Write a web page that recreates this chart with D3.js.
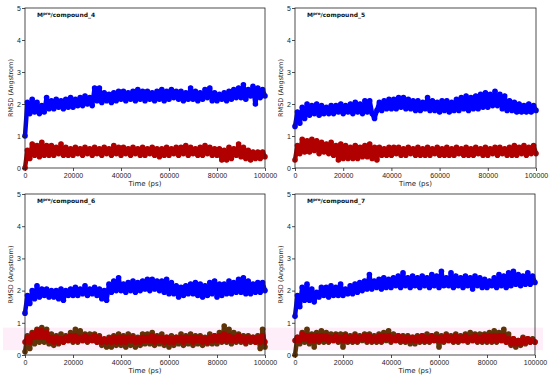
<!DOCTYPE html>
<html>
<head>
<meta charset="utf-8">
<script src="https://cdn.jsdelivr.net/npm/d3@7"></script>
<style>
  body { margin: 0; background: #fff; }
  svg { display: block; font-family: "DejaVu Sans", sans-serif; }
</style>
</head>
<body>
<svg id="chart" width="550" height="378"></svg>
<script>
// sampling times (ps), one point every 1000 ps
const TIME = d3.range(0, 100001, 1000);
const X_TICKS = [0, 20000, 40000, 60000, 80000, 100000];
const Y_TICKS = [0, 1, 2, 3, 4, 5];
const COMPOUNDS = ['compound_4', 'compound_5', 'compound_6', 'compound_7'];

const c4Protein = [1.00,2.05,1.70,2.15,1.75,2.05,1.70,1.95,1.75,2.20,
 1.85,2.10,1.85,2.15,1.90,2.10,1.85,2.15,1.90,2.20,
 1.90,2.15,1.95,2.20,1.95,2.25,2.00,2.20,1.95,2.50,
 2.10,2.50,2.05,2.35,2.10,2.30,2.05,2.35,2.10,2.40,
 2.15,2.40,2.10,2.35,2.15,2.40,2.10,2.45,2.15,2.40,
 2.10,2.40,2.15,2.35,2.10,2.40,2.15,2.45,2.10,2.40,
 2.15,2.45,2.20,2.40,2.15,2.40,2.10,2.35,2.15,2.50,
 2.15,2.40,2.10,2.35,2.15,2.45,2.20,2.50,2.10,2.35,
 2.10,2.30,2.15,2.35,2.10,2.40,2.15,2.45,2.20,2.50,
 2.20,2.60,2.15,2.45,2.25,2.55,2.00,2.50,2.20,2.45,
 2.25];
const c4Ligand = [0.00,0.55,0.30,0.75,0.40,0.70,0.35,0.80,0.40,0.70,
 0.40,0.70,0.40,0.65,0.45,0.75,0.40,0.65,0.40,0.60,
 0.40,0.65,0.45,0.60,0.40,0.65,0.45,0.60,0.40,0.65,
 0.45,0.60,0.40,0.65,0.45,0.60,0.40,0.70,0.45,0.65,
 0.40,0.65,0.45,0.60,0.40,0.65,0.45,0.60,0.40,0.65,
 0.40,0.60,0.45,0.65,0.40,0.60,0.35,0.60,0.40,0.65,
 0.40,0.60,0.45,0.65,0.40,0.65,0.45,0.70,0.40,0.65,
 0.45,0.60,0.40,0.65,0.40,0.70,0.45,0.65,0.40,0.60,
 0.40,0.60,0.25,0.55,0.25,0.65,0.30,0.60,0.40,0.75,
 0.35,0.65,0.30,0.55,0.25,0.50,0.30,0.50,0.30,0.50,
 0.35];

const c5Protein = [1.30,1.75,1.40,1.90,1.55,2.00,1.65,1.95,1.70,2.00,
 1.65,1.95,1.70,1.90,1.70,1.95,1.70,1.95,1.75,2.00,
 1.70,1.95,1.75,2.00,1.70,2.05,1.75,2.00,1.70,2.10,
 1.75,2.10,1.70,1.55,1.80,2.05,1.80,2.10,1.85,2.15,
 1.85,2.15,1.85,2.20,1.90,2.20,1.85,2.15,1.85,2.10,
 1.80,2.10,1.80,2.05,1.85,2.20,1.80,2.10,1.80,2.05,
 1.75,2.10,1.80,2.10,1.75,2.05,1.80,2.15,1.80,2.20,
 1.85,2.25,1.80,2.20,1.85,2.25,1.85,2.30,1.90,2.35,
 1.90,2.30,1.95,2.40,1.95,2.30,1.85,2.25,1.80,2.10,
 1.80,2.05,1.75,2.00,1.75,1.95,1.75,2.00,1.75,1.95,
 1.80];
const c5Ligand = [0.25,0.70,0.45,0.90,0.50,0.85,0.50,0.90,0.55,0.85,
 0.45,0.80,0.50,0.75,0.45,0.80,0.40,0.70,0.25,0.75,
 0.30,0.70,0.30,0.65,0.30,0.70,0.30,0.65,0.35,0.70,
 0.35,0.75,0.30,0.65,0.25,0.65,0.40,0.60,0.40,0.65,
 0.40,0.65,0.45,0.65,0.40,0.60,0.40,0.65,0.45,0.60,
 0.40,0.65,0.40,0.60,0.40,0.65,0.40,0.60,0.45,0.65,
 0.40,0.60,0.40,0.65,0.40,0.60,0.40,0.65,0.45,0.60,
 0.40,0.65,0.40,0.60,0.40,0.65,0.45,0.60,0.40,0.65,
 0.40,0.60,0.45,0.65,0.40,0.65,0.45,0.60,0.40,0.65,
 0.40,0.70,0.40,0.65,0.45,0.70,0.40,0.65,0.45,0.70,
 0.45];

const c6Protein = [1.30,1.85,1.60,2.00,1.75,2.15,1.80,2.05,1.85,2.05,
 1.80,2.00,1.80,2.00,1.75,2.05,1.70,2.00,1.85,2.05,
 1.85,2.10,1.85,2.05,1.90,2.15,1.85,2.05,1.90,2.10,
 1.85,2.05,1.75,2.00,1.70,2.20,1.95,2.30,2.00,2.40,
 2.00,2.20,1.95,2.25,2.00,2.30,1.95,2.25,2.00,2.30,
 2.05,2.35,2.00,2.35,2.05,2.30,2.00,2.30,1.95,2.35,
 1.90,2.25,1.90,2.15,1.80,2.10,1.85,2.15,1.90,2.20,
 1.90,2.25,1.85,2.20,1.80,2.15,1.85,2.25,1.90,2.30,
 1.80,2.20,1.85,2.20,1.90,2.30,1.90,2.25,1.95,2.35,
 1.95,2.40,1.90,2.30,1.90,2.20,1.95,2.25,1.95,2.25,
 2.00];
const c6Pocket = [0.10,0.60,0.20,0.70,0.35,0.80,0.40,0.85,0.40,0.80,
 0.35,0.65,0.30,0.60,0.35,0.65,0.40,0.60,0.45,0.70,
 0.40,0.80,0.40,0.75,0.45,0.65,0.40,0.65,0.45,0.65,
 0.40,0.60,0.30,0.45,0.25,0.55,0.25,0.60,0.30,0.65,
 0.30,0.60,0.25,0.65,0.30,0.60,0.25,0.55,0.30,0.65,
 0.35,0.65,0.35,0.70,0.30,0.60,0.35,0.65,0.30,0.55,
 0.25,0.60,0.30,0.55,0.35,0.65,0.30,0.60,0.35,0.65,
 0.30,0.60,0.35,0.60,0.30,0.55,0.35,0.65,0.35,0.60,
 0.35,0.70,0.40,0.90,0.40,0.80,0.35,0.70,0.40,0.65,
 0.40,0.60,0.35,0.60,0.40,0.55,0.40,0.60,0.20,0.80,
 0.25];
const c6Ligand = [0.40,0.55,0.40,0.65,0.55,0.75,0.55,0.75,0.55,0.70,
 0.45,0.55,0.40,0.55,0.40,0.50,0.40,0.55,0.45,0.60,
 0.45,0.60,0.45,0.55,0.45,0.60,0.45,0.55,0.45,0.60,
 0.40,0.55,0.40,0.50,0.40,0.50,0.40,0.55,0.40,0.55,
 0.40,0.55,0.40,0.55,0.45,0.55,0.40,0.50,0.40,0.55,
 0.45,0.55,0.45,0.60,0.40,0.55,0.45,0.55,0.40,0.55,
 0.40,0.50,0.40,0.55,0.45,0.55,0.40,0.55,0.45,0.55,
 0.40,0.55,0.45,0.55,0.40,0.50,0.40,0.55,0.45,0.60,
 0.45,0.60,0.45,0.65,0.45,0.60,0.45,0.55,0.45,0.60,
 0.45,0.55,0.40,0.55,0.45,0.55,0.40,0.55,0.40,0.60,
 0.40];

const c7Protein = [1.20,1.85,1.50,2.10,1.70,2.20,1.70,2.05,1.65,1.95,
 1.80,2.10,1.85,2.10,1.80,2.15,1.85,2.10,1.85,2.20,
 1.85,2.05,1.90,2.15,1.90,2.20,1.95,2.25,2.00,2.30,
 2.05,2.50,2.05,2.30,2.10,2.35,2.05,2.40,2.10,2.35,
 2.10,2.40,2.15,2.45,2.10,2.55,2.15,2.40,2.10,2.45,
 2.15,2.40,2.10,2.45,2.15,2.40,2.10,2.50,2.15,2.45,
 2.10,2.60,2.15,2.40,2.15,2.55,2.10,2.45,2.15,2.40,
 2.10,2.45,2.15,2.40,2.05,2.45,2.15,2.40,2.10,2.35,
 2.10,2.30,2.15,2.40,2.10,2.50,2.15,2.45,2.10,2.55,
 2.15,2.60,2.20,2.50,2.15,2.45,2.20,2.55,2.20,2.45,
 2.25];
const c7Pocket = [0.00,0.55,0.35,0.70,0.40,0.80,0.35,0.65,0.25,0.70,
 0.40,0.75,0.40,0.70,0.40,0.65,0.45,0.65,0.40,0.65,
 0.25,0.65,0.40,0.60,0.40,0.65,0.40,0.60,0.45,0.65,
 0.40,0.65,0.40,0.60,0.40,0.65,0.40,0.70,0.45,0.75,
 0.40,0.65,0.45,0.60,0.40,0.60,0.40,0.60,0.35,0.55,
 0.35,0.60,0.40,0.60,0.40,0.65,0.40,0.60,0.45,0.65,
 0.25,0.60,0.40,0.65,0.45,0.60,0.40,0.65,0.40,0.60,
 0.45,0.65,0.40,0.70,0.45,0.65,0.40,0.65,0.40,0.65,
 0.40,0.70,0.40,0.75,0.40,0.70,0.45,0.80,0.40,0.65,
 0.30,0.50,0.25,0.45,0.30,0.55,0.35,0.50,0.40,0.50,
 0.40];
const c7Ligand = [0.45,0.55,0.45,0.65,0.50,0.60,0.45,0.60,0.45,0.60,
 0.45,0.60,0.50,0.60,0.45,0.55,0.45,0.60,0.45,0.55,
 0.45,0.60,0.45,0.55,0.45,0.60,0.45,0.55,0.50,0.60,
 0.45,0.60,0.45,0.55,0.45,0.60,0.45,0.60,0.50,0.60,
 0.45,0.55,0.45,0.60,0.45,0.55,0.45,0.55,0.45,0.55,
 0.45,0.55,0.45,0.60,0.45,0.55,0.45,0.60,0.45,0.55,
 0.45,0.55,0.45,0.60,0.45,0.55,0.45,0.60,0.45,0.55,
 0.45,0.60,0.45,0.55,0.45,0.60,0.45,0.55,0.45,0.60,
 0.45,0.60,0.45,0.60,0.45,0.60,0.45,0.60,0.40,0.50,
 0.35,0.50,0.35,0.45,0.35,0.50,0.40,0.50,0.40,0.45,
 0.40];

// faint pink band seen behind the ligand traces of the lower panels [low, high]
const bandLower = [0.15, 0.85];

const COLOURS = {protein: '#0000ff', ligand: '#b00000', pocket: '#5e3408'};

const panels = [
  {name: COMPOUNDS[0], box: [25, 8, 240, 160],   series: [['protein', c4Protein], ['ligand', c4Ligand]]},
  {name: COMPOUNDS[1], box: [295, 8, 241, 160],  series: [['protein', c5Protein], ['ligand', c5Ligand]]},
  {name: COMPOUNDS[2], box: [25, 194, 240, 161], series: [['protein', c6Protein], ['pocket', c6Pocket], ['ligand', c6Ligand]], band: bandLower},
  {name: COMPOUNDS[3], box: [295, 194, 240, 161], series: [['protein', c7Protein], ['pocket', c7Pocket], ['ligand', c7Ligand]], band: bandLower}
];

const svg = d3.select('#chart');

panels.forEach(p => drawPanel(p));

function drawPanel(p) {
  const [left, top, w, h] = p.box;
  const g = svg.append('g').attr('transform', `translate(${left},${top})`);

  const x = d3.scaleLinear().domain([0, 100000]).range([0, w]);
  const y = d3.scaleLinear().domain([0, 5]).range([h, 0]);

  if (p.band) {
    g.append('rect')
        .attr('x', -22)
        .attr('y', y(p.band[1]))
        .attr('width', w + 30)
        .attr('height', y(p.band[0]) - y(p.band[1]))
        .attr('fill', '#fdeefa');
  }

  const line = d3.line()
                  .x((d, i) => x(TIME[i]))
                  .y(d => y(d));

  p.series.forEach(([kind, values]) => {
    const s = g.append('g').classed('series ' + kind, true);
    s.append('path')
        .datum(values)
        .attr('d', line)
        .attr('fill', 'none')
        .attr('stroke', COLOURS[kind])
        .attr('stroke-width', 4.5)
        .attr('stroke-linejoin', 'round');
    s.selectAll('circle')
        .data(values)
      .enter()
      .append('circle')
        .attr('cx', (d, i) => x(TIME[i]))
        .attr('cy', d => y(d))
        .attr('r', 2.8)
        .attr('fill', COLOURS[kind]);
  });

  // frame
  g.append('rect')
      .attr('width', w).attr('height', h)
      .attr('fill', 'none')
      .attr('stroke', '#222')
      .attr('stroke-width', 0.8);

  const xAxis = g.append('g')
      .attr('transform', `translate(0,${h})`)
      .call(d3.axisBottom(x).tickValues(X_TICKS).tickSize(3).tickFormat(d3.format('d')));
  const yAxis = g.append('g')
      .call(d3.axisLeft(y).tickValues(Y_TICKS).tickSize(3).tickFormat(d3.format('d')));

  [xAxis, yAxis].forEach(a => {
    a.select('.domain').remove();
    a.selectAll('line').attr('stroke', '#222').attr('stroke-width', 0.8);
    a.selectAll('text')
        .attr('fill', '#222')
        .style('font-size', '7px');
  });
  xAxis.selectAll('text').attr('dy', '0.75em').attr('y', 5);
  yAxis.selectAll('text').attr('x', -4);

  g.append('text')
      .attr('x', w / 2)
      .attr('y', h + 18)
      .attr('text-anchor', 'middle')
      .style('font-size', '7px')
      .attr('fill', '#222')
      .text('Time (ps)');

  g.append('text')
      .attr('transform', `translate(${-12},${h / 2}) rotate(-90)`)
      .attr('text-anchor', 'middle')
      .style('font-size', '6.5px')
      .attr('fill', '#222')
      .text('RMSD (Angstrom)');

  const title = g.append('text')
      .attr('x', 12)
      .attr('y', 9)
      .style('font-size', '6px')
      .style('font-weight', 'bold')
      .attr('fill', '#111');
  title.append('tspan').text('M');
  title.append('tspan').attr('dy', -2).style('font-size', '4px').text('pro');
  title.append('tspan').attr('dy', 2).text('/' + p.name);
}
</script>
</body>
</html>
